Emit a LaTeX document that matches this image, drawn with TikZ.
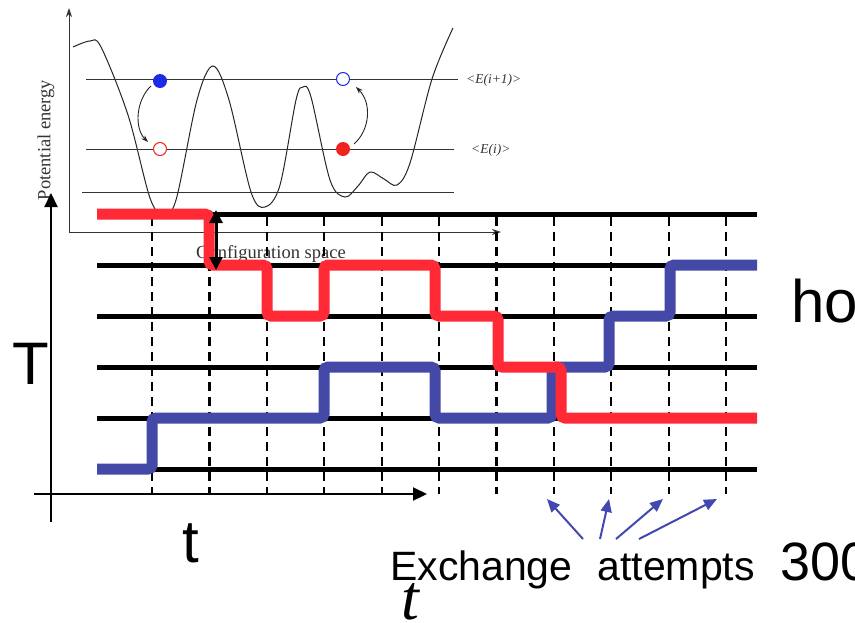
\documentclass[tikz,border=0pt]{standalone}
\usepackage{fontspec}
\setmainfont{Liberation Serif}
\setsansfont{Liberation Sans}
\usetikzlibrary{arrows.meta}
\definecolor{myred}{HTML}{FF2A36}
\definecolor{myblue}{HTML}{4449A8}
\definecolor{arrblue}{HTML}{4248B0}
\definecolor{insetgray}{HTML}{333333}
\definecolor{circblue}{HTML}{1E2BE6}
\definecolor{circred}{HTML}{F0241E}
\begin{document}
\begin{tikzpicture}[x=1pt,y=-1pt,
  levelline/.style={line width=5pt, black},
  attemptline/.style={line width=2.2pt, black, dash pattern=on 9pt off 6pt},
  walker/.style={line width=11pt, rounded corners=4pt, line cap=butt},
  mainaxis/.style={line width=2.2pt, black, -{Triangle[length=14pt,width=13pt]}},
  insetaxis/.style={line width=0.9pt, insetgray, -{Stealth[length=9pt,width=6pt]}},
  insetlevel/.style={line width=0.9pt, insetgray},
  insetcurve/.style={line width=1pt, black!85},
  insettext/.style={font=\fontsize{18.5}{18.5}\selectfont, text=insetgray, inner sep=0pt},
  elabel/.style={font=\fontsize{13.5}{13.5}\selectfont\itshape, text=insetgray, inner sep=0pt, anchor=west},
  hop/.style={line width=0.9pt, black!85, -{Stealth[length=7pt,width=5pt]}},
  filledc/.style={circle, minimum size=14pt, inner sep=0pt},
  openc/.style={circle, minimum size=13pt, inner sep=0pt, line width=1pt, fill=white},
  bigsans/.style={font=\sffamily\fontsize{60}{60}\selectfont, inner sep=0pt, anchor=base west},
  midsans/.style={font=\sffamily\fontsize{41}{41}\selectfont, inner sep=0pt, anchor=base west},
  attemptarrow/.style={line width=2pt, arrblue, -{Triangle[length=13pt,width=11pt]}}
]
\useasboundingbox (0,0) rectangle (855,622);

% ---------- inset: potential energy landscape ----------
\draw[insetcurve] plot[smooth, tension=0.55] coordinates {
 (73,47) (90,41) (101,47) (128,115) (150,198) (163,214) (176,200)
 (197,100) (213,66) (229,100) (251,192) (265,207) (280,185)
 (296,100) (303,87) (311,97) (330,180) (345,197) (358,186)
 (370,172) (384,179) (397,185) (410,163) (432,79) (453,28)};
\draw[insetlevel] (86,79) -- (458,79);
\draw[insetlevel] (86,149) -- (454,149);
\draw[insetlevel] (82,192) -- (454,192);
\coordinate (iorigin) at (69,232);
\coordinate (iytip) at (69,8);
\coordinate (ixtip) at (501,232);
\draw[insetaxis] (iorigin) -- (iytip);
\draw[insetaxis] (iorigin) -- (ixtip);
\node[insettext, rotate=90] (pelabel) at (46,140) {Potential energy};
\node[insettext, anchor=base west] (cslabel) at (196,258) {Configuration space};
\node[elabel] (eip1) at (466,80) {<E(i+1)>};
\node[elabel] (ei) at (471,150) {<E(i)>};

\node[filledc, fill=circblue] (bfill) at (160,81) {};
\node[openc, draw=circred] (ropen) at (160,149) {};
\node[openc, draw=circblue] (bopen) at (343,79) {};
\node[filledc, fill=circred] (rfill) at (343,149) {};
\coordinate (h1s) at (151,86);
\coordinate (h1e) at (148,142);
\coordinate (h2s) at (354,144);
\coordinate (h2e) at (356,87);
\draw[hop] (h1s) .. controls (136,100) and (134,128) .. (h1e);
\draw[hop] (h2s) .. controls (370,130) and (372,103) .. (h2e);

% ---------- main diagram ----------
\foreach \yy/\nm in {214/l0,265/l1,316/l2,367/l3,418/l4,469/l5}{
  \coordinate (\nm w) at (97,\yy);
  \coordinate (\nm e) at (757,\yy);
  \draw[levelline] (\nm w) -- (\nm e);
}
\foreach \k in {0,...,10}{
  \pgfmathsetmacro{\xx}{152+57.4*\k}
  \coordinate (d\k t) at (\xx,217);
  \coordinate (d\k b) at (\xx,494);
  \draw[attemptline] (d\k t) -- (d\k b);
}
\coordinate (morigin) at (51,494);
\coordinate (mybottom) at (51,522);
\coordinate (mytip) at (51,193);
\coordinate (mxleft) at (34,494);
\coordinate (mxtip) at (427,494);
\draw[mainaxis] (mybottom) -- (mytip);
\draw[mainaxis] (mxleft) -- (mxtip);

\draw[walker, myblue] (97,469) -- (152,469) -- (152,418) -- (324,418) -- (324,367)
  -- (435,367) -- (435,418) -- (552,418) -- (552,367) -- (609,367) -- (609,316)
  -- (670,316) -- (670,265) -- (757,265);
\draw[walker, myred] (97,214) -- (209,214) -- (209,265) -- (267,265) -- (267,316)
  -- (324,316) -- (324,265) -- (435,265) -- (435,316) -- (498,316) -- (498,367)
  -- (561,367) -- (561,418) -- (757,418);

\coordinate (swtop) at (216,210);
\coordinate (swbot) at (216,270);
\draw[line width=3pt, {Triangle[length=13pt,width=13pt]}-{Triangle[length=13pt,width=13pt]}] (swtop) -- (swbot);

\node[bigsans] (Tlabel) at (12,384) {T};
\node[bigsans] (tlabel) at (182,562) {t};
\node[bigsans] (holabel) at (791,322) {ho};
\node[midsans] (exlabel) at (390,580) {Exchange\hspace*{25pt}attempts};
\node[font=\sffamily\fontsize{54}{54}\selectfont, inner sep=0pt, anchor=base west] (num) at (780,580) {300};
\node[font=\itshape\fontsize{64}{64}\selectfont, inner sep=0pt, anchor=base west] (itt) at (401,619) {t};

\coordinate (a1) at (583,539);
\coordinate (a2) at (600,539);
\coordinate (a3) at (616,539);
\coordinate (a4) at (639,539);
\coordinate (t1) at (547,499);
\coordinate (t2) at (609,499);
\coordinate (t3) at (663,499);
\coordinate (t4) at (717,499);
\draw[attemptarrow] (a1) -- (t1);
\draw[attemptarrow] (a2) -- (t2);
\draw[attemptarrow] (a3) -- (t3);
\draw[attemptarrow] (a4) -- (t4);
\end{tikzpicture}
\end{document}
